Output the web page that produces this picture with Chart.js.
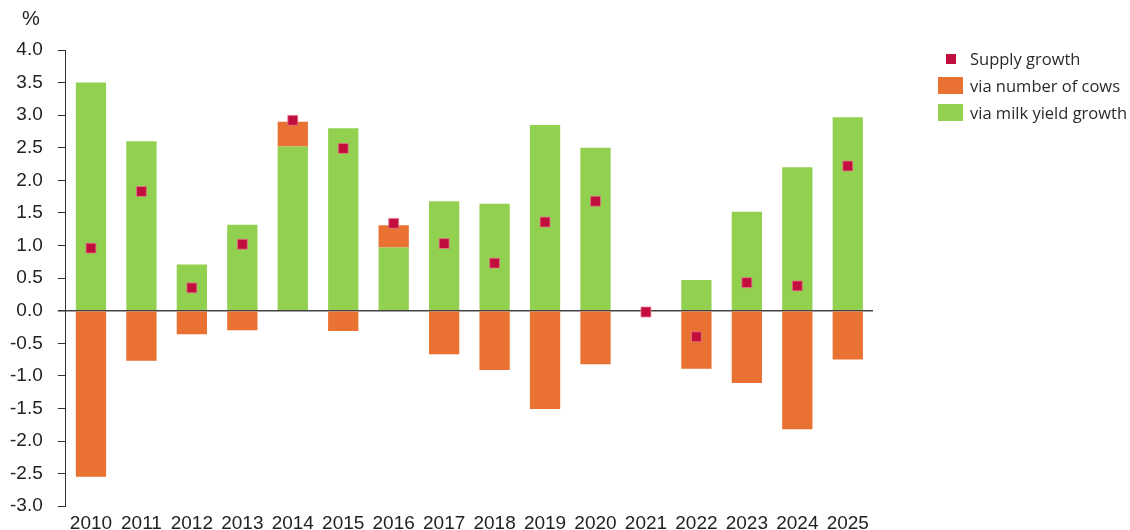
<!DOCTYPE html>
<html>
<head>
<meta charset="utf-8">
<script src="https://cdn.jsdelivr.net/npm/chart.js@4"></script>
<style>
    html, body { margin: 0; padding: 0; background: #fff; overflow: hidden; }
    #wrap { position: relative; width: 1130px; height: 530px; overflow: hidden; }
    #unit { position: absolute; left: 22px; top: 7px; font: 20px 'Liberation Sans', Arial, sans-serif; color: #222; }
    #legend { position: absolute; left: 938px; top: 45px; font: 16.5px 'Open Sans', sans-serif; color: #2b2b2b; }
    .item { display: flex; align-items: center; height: 27px; }
    .sw { width: 25px; height: 17px; margin-right: 7px; display: flex; align-items: center; justify-content: center; }
    .dot { width: 10px; height: 10px; background: #C20E3C; }
</style>
</head>
<body>
<div id="wrap">
    <canvas id="chart" width="1130" height="533"></canvas>
    <div id="unit">%</div>
    <div id="legend">
        <div class="item"><span class="sw"><span class="dot"></span></span>Supply growth</div>
        <div class="item"><span class="sw" style="background:#E97132"></span>via number of cows</div>
        <div class="item"><span class="sw" style="background:#92D050"></span>via milk yield growth</div>
    </div>
</div>
<script>
    // ── Data ────────────────────────────────────────────────────────────────────
    const years = ['2010', '2011', '2012', '2013', '2014', '2015', '2016', '2017',
                   '2018', '2019', '2020', '2021', '2022', '2023', '2024', '2025'];
    const milkYield = [3.50, 2.60, 0.71, 1.32, 2.52, 2.80, 0.97, 1.68,
                       1.64, 2.85, 2.50, 0, 0.47, 1.52, 2.20, 2.97];
    const cows = [-2.55, -0.77, -0.36, -0.30, 0.38, -0.31, 0.34, -0.67,
                  -0.91, -1.51, -0.82, 0, -0.89, -1.11, -1.82, -0.75];
    const supply = [0.96, 1.83, 0.35, 1.02, 2.92, 2.49, 1.34, 1.03,
                    0.73, 1.36, 1.68, -0.02, -0.40, 0.43, 0.38, 2.22];
    const yTicks = [-3, -2.5, -2, -1.5, -1, -0.5, 0, 0.5, 1, 1.5, 2, 2.5, 3, 3.5, 4];

    const colors = {
        supply: '#C20E3C',
        cows: '#E97132',
        milk: '#92D050',
        axis: '#333'
    };

    const tickFont = { family: "'Liberation Sans', Arial, sans-serif", size: 19 };

    new Chart(document.getElementById('chart'), {
        type: 'bar',
        data: {
            labels: years,
            datasets: [
                {
                    type: 'line',
                    label: 'Supply growth',
                    data: supply,
                    stack: 'supply',
                    showLine: false,
                    pointStyle: 'rect',
                    pointRadius: 7,
                    pointBackgroundColor: colors.supply,
                    pointBorderColor: 'rgba(230,120,140,0.8)',
                    pointBorderWidth: 1,
                    order: 0
                },
                {
                    label: 'via milk yield growth',
                    data: milkYield,
                    stack: 'bars',
                    backgroundColor: colors.milk,
                    order: 1
                },
                {
                    label: 'via number of cows',
                    data: cows,
                    stack: 'bars',
                    backgroundColor: colors.cows,
                    order: 1
                }
            ]
        },
        options: {
            responsive: false,
            animation: false,
            // tick padding is counted twice by the scales, hence the negative pads
            layout: { padding: { left: -5, right: 257, top: 50, bottom: 0 } },
            datasets: { bar: { categoryPercentage: 1.0, barPercentage: 0.6 } },
            plugins: { legend: { display: false }, tooltip: { enabled: false } },
            scales: {
                x: {
                    stacked: true,
                    grid: { display: false },
                    border: { display: false },
                    ticks: {
                        autoSkip: false, maxRotation: 0, padding: -2,
                        color: '#222',
                        font: tickFont
                    }
                },
                y: {
                    stacked: true,
                    min: -3, max: 4,
                    afterBuildTicks: axis => { axis.ticks = yTicks.map(v => ({ value: v })); },
                    border: { display: true, color: colors.axis, width: 1 },
                    grid: {
                        drawOnChartArea: true,
                        tickLength: 8,
                        tickColor: colors.axis,
                        color: ctx => ctx.tick && ctx.tick.value === 0 ? '#444' : 'transparent',
                        lineWidth: ctx => ctx.tick && ctx.tick.value === 0 ? 1.5 : 1
                    },
                    ticks: {
                        padding: 15,
                        color: '#222',
                        font: tickFont,
                        callback: v => v.toFixed(1)
                    }
                }
            }
        }
    });
</script>
</body>
</html>
